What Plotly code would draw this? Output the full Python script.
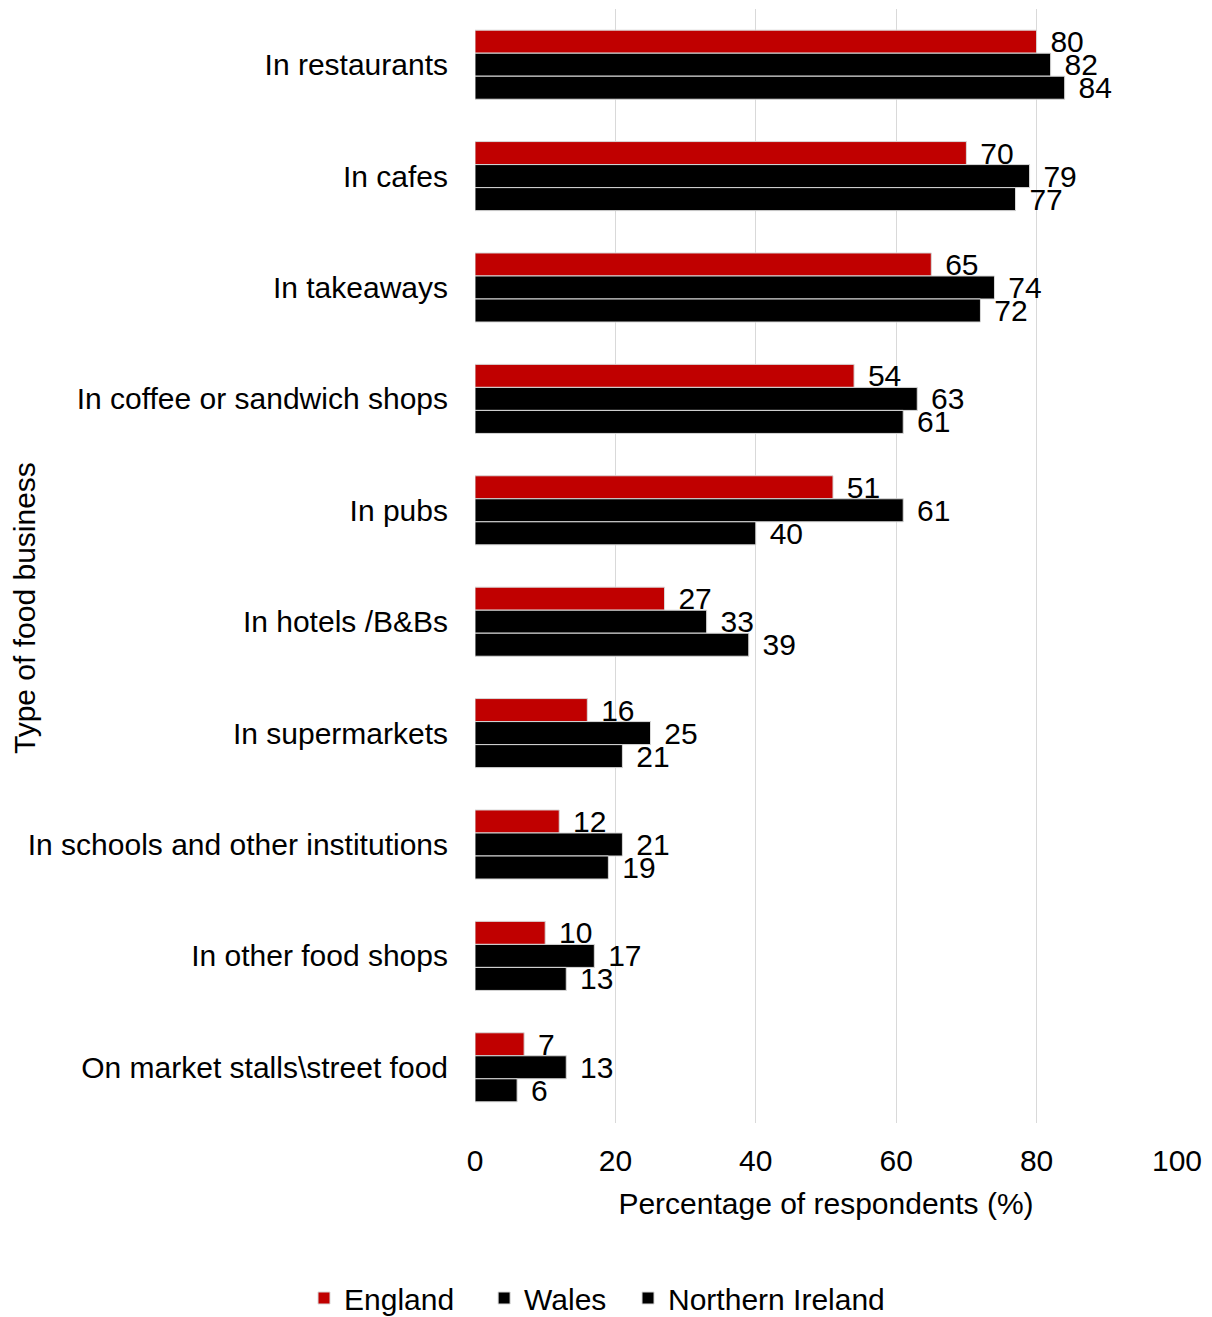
import plotly.graph_objects as go

categories = [
    "In restaurants",
    "In cafes",
    "In takeaways",
    "In coffee or sandwich shops",
    "In pubs",
    "In hotels /B&Bs",
    "In supermarkets",
    "In schools and other institutions",
    "In other food shops",
    "On market stalls\\street food",
]
england = [80, 70, 65, 54, 51, 27, 16, 12, 10, 7]
wales = [82, 79, 74, 63, 61, 33, 25, 21, 17, 13]
northern_ireland = [84, 77, 72, 61, 40, 39, 21, 19, 13, 6]
x_ticks = [0, 20, 40, 60, 80, 100]

FONT = "Liberation Sans, Arial, sans-serif"
FS = 30
NB = "\u00a0"

fig = go.Figure()
for name, pad, vals, col in [
    ("England", 3, england, "#c00000"),
    ("Wales", 2, wales, "#000000"),
    ("Northern Ireland", 0, northern_ireland, "#000000"),
]:
    fig.add_trace(go.Bar(
        y=categories, x=vals, name=name + NB * pad, orientation="h",
        marker=dict(color=col, line=dict(color="#d9d9d9", width=1)),
        text=[NB + "\u200a" + str(v) for v in vals],
        textposition="outside", constraintext="none", cliponaxis=False,
        textfont=dict(family=FONT, size=FS, color="#000000"),
    ))

fig.update_layout(
    width=1212, height=1317,
    margin=dict(l=475, r=35, t=9, b=194, autoexpand=False),
    barmode="group", bargap=0.38, bargroupgap=0,
    plot_bgcolor="white", paper_bgcolor="white",
    font=dict(family=FONT, size=FS, color="#000000"),
    showlegend=True,
    legend=dict(orientation="h", xref="paper", x=(304 - 475) / 702, xanchor="left",
                y=-175 / 1114, yanchor="middle",
                font=dict(family=FONT, size=FS, color="#000000"), traceorder="normal"),
    xaxis=dict(range=[0, 100], tickvals=x_ticks, showgrid=True, gridcolor="#d9d9d9",
               gridwidth=1, zeroline=False, showline=False, ticks="", automargin=False,
               tickfont=dict(size=FS), ticklabelstandoff=17,
               title=dict(text="Percentage of respondents (%)", font=dict(size=FS), standoff=16)),
    yaxis=dict(autorange="reversed", showgrid=False, zeroline=False, showline=False,
               ticks="", tickfont=dict(size=FS), ticklabelstandoff=26, automargin=False),
    annotations=[dict(text="Type of food business", textangle=-90, xref="paper", yref="paper",
                      x=(24 - 475) / 702, y=(1123 - 608) / 1114, xanchor="center", yanchor="middle",
                      showarrow=False, font=dict(size=FS, family=FONT, color="#000000"))],
)

fig.write_html("out.html", post_script="document.body.style.margin='0';",
               config={"displayModeBar": False})
